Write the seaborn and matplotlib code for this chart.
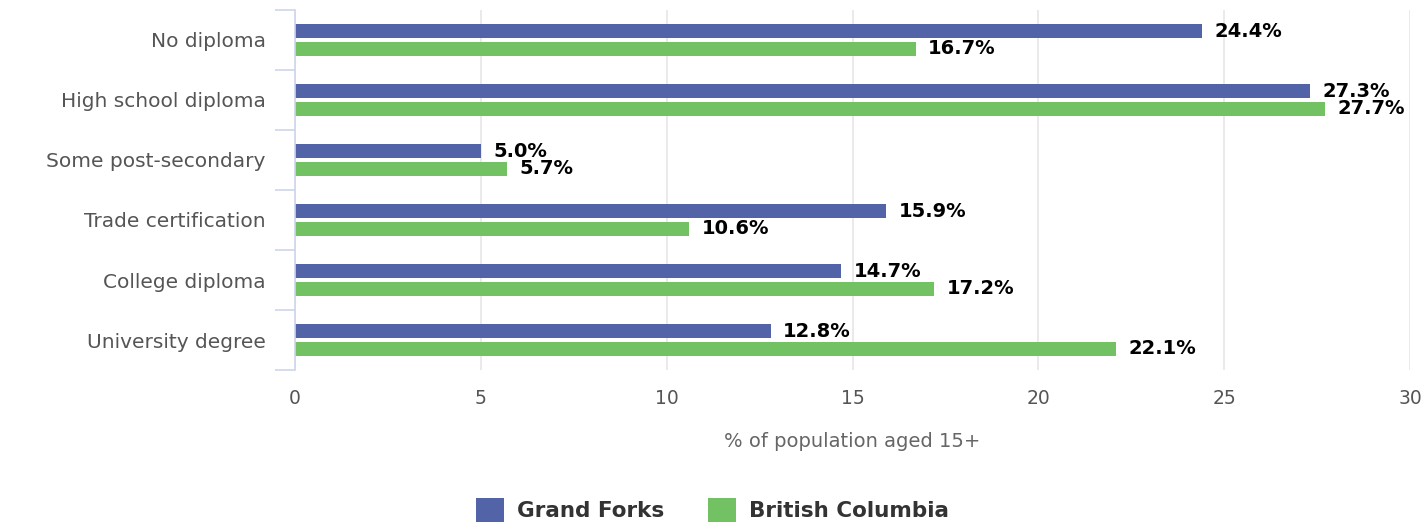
import numpy as np
import pandas as pd
import matplotlib.pyplot as plt
import seaborn as sns
from matplotlib.patches import Patch

# Education levels, share of population aged 15+
categories = ['No diploma', 'High school diploma', 'Some post-secondary',
              'Trade certification', 'College diploma', 'University degree']
grand_forks = [24.4, 27.3, 5.0, 15.9, 14.7, 12.8]
british_columbia = [16.7, 27.7, 5.7, 10.6, 17.2, 22.1]
series_names = ['Grand Forks', 'British Columbia']
colors = ['#5263a8', '#72c163']

df = pd.DataFrame({
    'Category': categories * 2,
    'Value': grand_forks + british_columbia,
    'Region': [series_names[0]] * len(categories) + [series_names[1]] * len(categories),
})

sns.set_style('white')
plt.rcParams['font.family'] = ['DejaVu Sans']

fig = plt.figure(figsize=(14.25, 5.23), dpi=100)
ax = fig.add_axes([0.207, 0.2925, 0.7825, 0.6885])

sns.barplot(data=df, y='Category', x='Value', hue='Region', orient='h',
            palette=colors, width=0.58, gap=0.2, dodge=True, ax=ax,
            legend=False, saturation=1, edgecolor='none', linewidth=0)

# value labels
for cont in ax.containers:
    ax.bar_label(cont, fmt='%.1f%%', padding=9, fontsize=14, fontweight='bold',
                 color='black')

ax.set_xlim(0, 30)
ax.set_ylim(len(categories) - 0.5, -0.5)
ax.set_xticks([0, 5, 10, 15, 20, 25, 30])
ax.grid(axis='x', color='#e6e6e6', linewidth=1.2)
ax.set_axisbelow(True)

for s in ['top', 'right', 'bottom']:
    ax.spines[s].set_visible(False)
ax.spines['left'].set_color('#ccd6eb')
ax.spines['left'].set_linewidth(1.2)

# category boundary ticks on the left axis
ax.set_yticks(np.arange(-0.5, len(categories), 1.0), minor=True)
ax.tick_params(axis='y', which='minor', left=True, length=14.5, width=1.2,
               color='#ccd6eb')
ax.tick_params(axis='y', which='major', length=0, pad=21, labelsize=14.5,
               labelcolor='#555555')
ax.tick_params(axis='x', length=0, pad=14, labelsize=13.5, labelcolor='#555555')

ax.set_ylabel('')
ax.set_xlabel('% of population aged 15+', fontsize=14, color='#666666',
              labelpad=17)

handles = [Patch(facecolor=c, edgecolor='none') for c in colors]
leg = fig.legend(handles, series_names, loc='lower center',
                 bbox_to_anchor=(0.5, -0.035), ncol=2, frameon=False,
                 handlelength=1.3, handleheight=1.35, columnspacing=2.0,
                 handletextpad=0.6,
                 prop={'size': 15.5, 'weight': 'bold'})
for t in leg.get_texts():
    t.set_color('#333333')

fig.savefig('out.png', dpi=100)
